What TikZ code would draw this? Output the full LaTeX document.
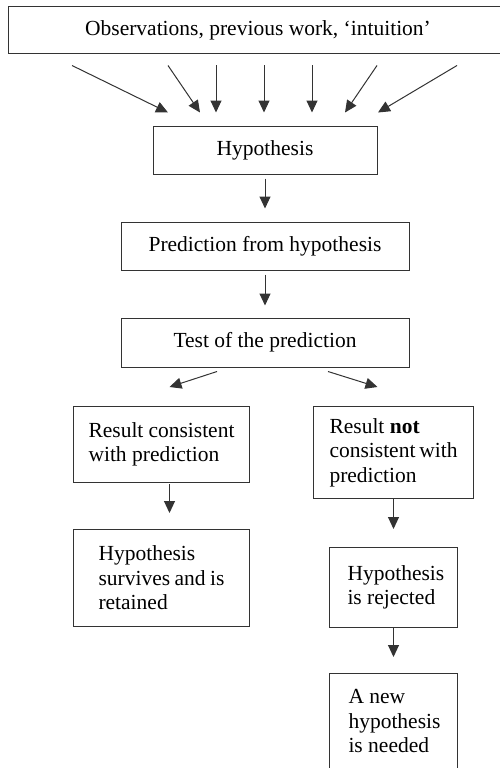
\documentclass[tikz,border=0pt]{standalone}
\usepackage{fontspec}
\setmainfont{Liberation Serif}
\usetikzlibrary{arrows.meta}
\hyphenpenalty=10000

\begin{document}
\begin{tikzpicture}[
        x=1pt, y=-1pt, % координаты в пикселях, ось y вниз
        every node/.style = {font=\fontsize{21.5}{24.5}\selectfont},
        box/.style = {draw=black!80, line width=1pt, inner sep=0pt}, % рамка
        tbox/.style = {box, align=flush left, anchor=north west}, % рамка, текст слева
        arr/.style = {draw=black!80, line width=1pt, -{Triangle[length=12pt, width=11pt]}}, % стрелка
    ]
    \useasboundingbox (0,0) rectangle (499,768);

    \node[box, minimum width=500pt, minimum height=47pt] (obs) at (258,30.5) {Observations, previous work, ‘intuition’};
    \node[box, minimum width=224pt, minimum height=48pt] (hyp) at (265,150) {Hypothesis};
    \node[box, minimum width=288pt, minimum height=48pt] (pred) at (265,246) {Prediction from hypothesis};
    \node[box, minimum width=288pt, minimum height=49pt] (test) at (265,342.5) {Test of the prediction};

    \node[tbox, minimum width=176pt, minimum height=76pt, text width=146pt] (res1) at (73,406) {Result~consistent\\ with~prediction};
    \node[tbox, minimum width=176pt, minimum height=97pt, text width=126pt] (surv) at (73,529) {Hypothesis\\ survives~and~is\\ retained};
    \node[tbox, minimum width=160pt, minimum height=92pt, text width=128pt] (res2) at (313,406) {Result \textbf{not}\\ consistent~with\\ prediction};
    \node[tbox, minimum width=128pt, minimum height=80pt, text width=92pt] (rej) at (329,547) {Hypothesis\\ is~rejected};
    \node[tbox, minimum width=128pt, inner ysep=16pt, text width=90pt] (new) at (329,673) {A~new\\ hypothesis\\ is~needed};

    % веер стрелок к гипотезе
    \foreach \a/\b in {-186/-97, -90/-65, -42/-49, 6/-1, 54/47, 119/80, 199/113}
        \draw[arr] ([xshift=\a pt, yshift=-11pt]obs.south) -- ([xshift=\b pt, yshift=13pt]hyp.north);

    \draw[arr, shorten <=4pt, shorten >=13pt] (hyp) -- (pred);
    \draw[arr, shorten <=4pt, shorten >=12pt] (pred) -- (test);

    \draw[arr] ([xshift=-48pt, yshift=-4pt]test.south) -- ([xshift=8pt, yshift=19pt]res1.north);
    \draw[arr] ([xshift=63pt, yshift=-4pt]test.south) -- ([xshift=-16pt, yshift=19pt]res2.north);

    \draw[arr, shorten <=1pt, shorten >=16pt] ([xshift=8pt]res1.south) -- ([xshift=8pt]surv.north);
    \draw[arr, shorten >=18pt] (res2) -- (rej);
    \draw[arr, shorten >=16pt] (rej) -- (new);
\end{tikzpicture}
\end{document}
